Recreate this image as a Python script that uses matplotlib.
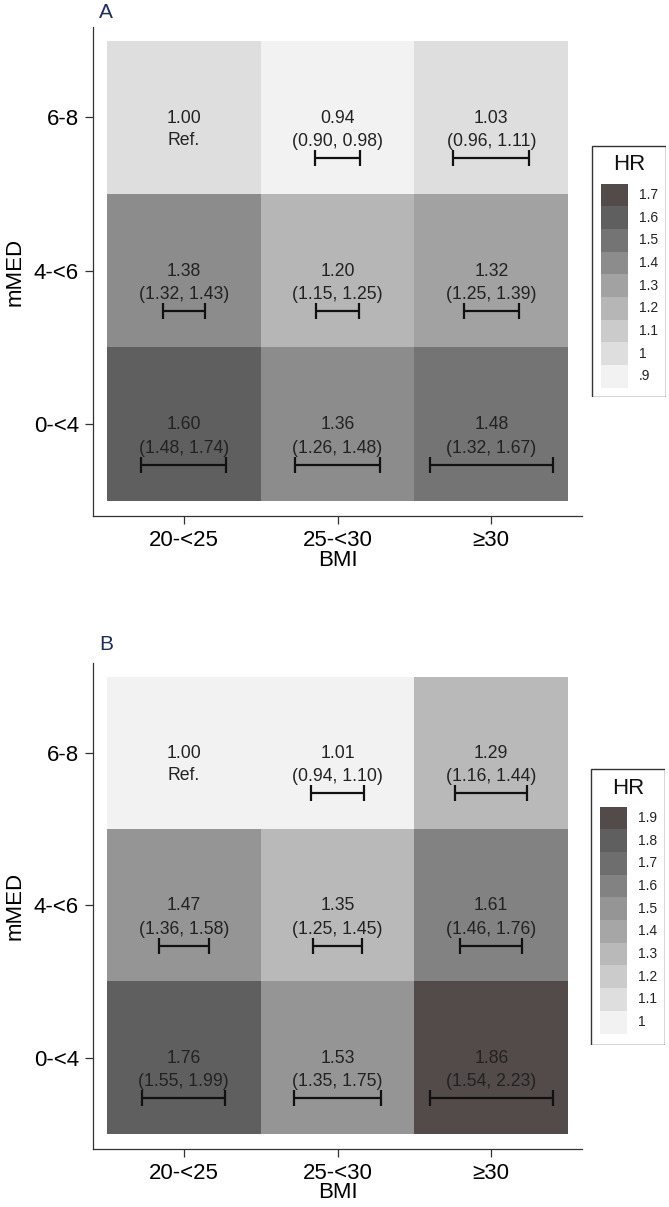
import numpy as np
import matplotlib
matplotlib.use("Agg")
import matplotlib.pyplot as plt
from matplotlib.patches import Rectangle

plt.rcParams['font.family'] = ['Liberation Sans', 'DejaVu Sans']

bmi_labels = ['20-<25', '25-<30', '≥30']
med_labels = ['0-<4', '4-<6', '6-8']  # bottom to top

# panel A: rows = mMED (0-<4, 4-<6, 6-8), cols = BMI
hr_a = [[1.60, 1.36, 1.48],
        [1.38, 1.20, 1.32],
        [1.00, 0.94, 1.03]]
lo_a = [[1.48, 1.26, 1.32],
        [1.32, 1.15, 1.25],
        [np.nan, 0.90, 0.96]]
hi_a = [[1.74, 1.48, 1.67],
        [1.43, 1.25, 1.39],
        [np.nan, 0.98, 1.11]]

# panel B
hr_b = [[1.76, 1.53, 1.86],
        [1.47, 1.35, 1.61],
        [1.00, 1.01, 1.29]]
lo_b = [[1.55, 1.35, 1.54],
        [1.36, 1.25, 1.46],
        [np.nan, 0.94, 1.16]]
hi_b = [[1.99, 1.75, 2.23],
        [1.58, 1.45, 1.76],
        [np.nan, 1.10, 1.44]]

# legend levels and colours (lowest first)
levels_a = [0.9, 1.0, 1.1, 1.2, 1.3, 1.4, 1.5, 1.6, 1.7]
colors_a = ['#f2f2f2', '#dedede', '#cbcbcb', '#b6b6b6', '#a2a2a2',
            '#8c8c8c', '#747474', '#5f5f5f', '#534a4a']
level_names_a = ['.9', '1', '1.1', '1.2', '1.3', '1.4', '1.5', '1.6', '1.7']

levels_b = [1.0, 1.1, 1.2, 1.3, 1.4, 1.5, 1.6, 1.7, 1.8, 1.9]
colors_b = ['#f2f2f2', '#dedede', '#cbcbcb', '#b9b9b9', '#a6a6a6',
            '#959595', '#828282', '#6e6e6e', '#5f5f5f', '#534a4a']
level_names_b = ['1', '1.1', '1.2', '1.3', '1.4', '1.5', '1.6', '1.7', '1.8', '1.9']

W, H = 669, 1207
fig = plt.figure(figsize=(W / 100, H / 100), dpi=100)


def px_axes(x0, y0, x1, y1):
    return fig.add_axes([x0 / W, 1 - y1 / H, (x1 - x0) / W, (y1 - y0) / H])


def heat_panel(ax, hr, lo, hi, levels, colors):
    hr = np.array(hr)
    lo = np.array(lo)
    hi = np.array(hi)
    lev = np.array(levels)
    span = np.nanmax(np.log(hi / lo))
    for r in range(3):
        for c in range(3):
            x, y = c + 1, r + 1
            idx = int(np.argmin(np.abs(lev - hr[r, c] + 1e-6)))
            ax.bar(x, 1, width=1, bottom=y - 0.5, color=colors[idx],
                   linewidth=0, zorder=1)
            ax.text(x, y - 0.005, f'{hr[r, c]:.2f}', ha='center', va='center',
                    fontsize=12.7, color='#222222', zorder=3)
            if np.isnan(lo[r, c]):
                ax.text(x, y - 0.148, 'Ref.', ha='center', va='center',
                        fontsize=12.7, color='#222222', zorder=3)
            else:
                ax.text(x, y - 0.158, f'({lo[r, c]:.2f}, {hi[r, c]:.2f})',
                        ha='center', va='center', fontsize=12.7,
                        color='#222222', zorder=3)
                half = 0.4 * np.log(hi[r, c] / lo[r, c]) / span
                ax.errorbar(x, y - 0.265, xerr=half, fmt='none', ecolor='#111111',
                            elinewidth=1.6, capsize=5.5, capthick=1.6, zorder=4)
    ax.set_xlim(0.41, 3.59)
    ax.set_ylim(0.40, 3.59)
    ax.set_xticks([1, 2, 3])
    ax.set_xticklabels(bmi_labels)
    ax.set_yticks([1, 2, 3])
    ax.set_yticklabels(med_labels)
    ax.set_xlabel('BMI', fontsize=16, labelpad=-1)
    ax.set_ylabel('mMED', fontsize=16, labelpad=6)
    ax.tick_params(labelsize=16, length=6, width=0.9, color='#333333', pad=4)
    for s in ['top', 'right']:
        ax.spines[s].set_visible(False)
    for s in ['left', 'bottom']:
        ax.spines[s].set_color('#333333')
        ax.spines[s].set_linewidth(0.9)


def legend_box(x0, y0, x1, y1, names, colors):
    lax = px_axes(x0, y0, x1, y1)
    w, h = x1 - x0, y1 - y0
    lax.set_xlim(0, w)
    lax.set_ylim(h, 0)
    lax.axis('off')
    lax.add_patch(Rectangle((0.5, 0.5), w - 1, h - 1, fill=False,
                            edgecolor='#333333', linewidth=1.0))
    lax.text(w / 2 + 1, 20, 'HR', ha='center', va='center', fontsize=16,
             color='#111111')
    sh = 22.7
    n = len(names)
    for i in range(n):
        k = n - 1 - i
        top = 38.5 + i * sh
        lax.add_patch(Rectangle((10, top), 27, sh, facecolor=colors[k],
                                edgecolor='none'))
        lax.text(48, top + sh / 2, names[k], ha='left', va='center',
                 fontsize=10, color='#222222')


ax_a = px_axes(93, 27, 582, 516)
heat_panel(ax_a, hr_a, lo_a, hi_a, levels_a, colors_a)
legend_box(591, 145, 666, 397, level_names_a, colors_a)

ax_b = px_axes(93, 663, 582, 1149)
heat_panel(ax_b, hr_b, lo_b, hi_b, levels_b, colors_b)
legend_box(590, 768, 665, 1045, level_names_b, colors_b)

fig.text(99 / W, 1 - 12 / H, 'A', fontsize=15, color='#1f2d5c', ha='left', va='center')
fig.text(99 / W, 1 - 645 / H, 'B', fontsize=15, color='#1f2d5c', ha='left', va='center')

fig.savefig('out.png', dpi=100, facecolor='white')
